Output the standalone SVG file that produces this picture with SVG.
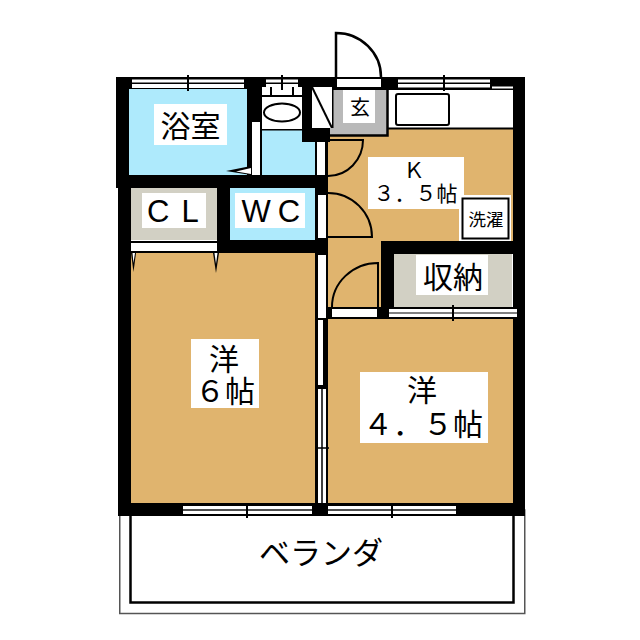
<svg xmlns="http://www.w3.org/2000/svg" width="640" height="640" viewBox="0 0 640 640">
<style>
.k{fill:#000}
.w{fill:#fff}
.wood{fill:#e0b46e}
.blue{fill:#aeeafc}
.store{fill:#d2d0c4}
.gray{fill:#b9b9b9}
.ln{fill:none;stroke:#000;stroke-width:2}
text{font-family:"Noto Sans CJK JP","Liberation Sans",sans-serif;fill:#000;text-anchor:middle}
text.lat{font-family:"Liberation Sans",sans-serif;text-anchor:start}
</style>
<rect width="640" height="640" fill="#fff"/>
<g id="balcony">
<rect x="119.750" y="510" width="405" height="103.500" fill="#fff" stroke="#555" stroke-width="1.500"/>
<rect x="130.500" y="510" width="383" height="92.500" fill="#fff" stroke="#000" stroke-width="2.500"/>
<text x="321" y="564" font-size="31">ベランダ</text>
</g>
<g id="walls">
<rect class="k" x="116" y="77" width="409" height="13"/>
<rect class="k" x="116" y="77" width="13" height="111"/>
<rect class="k" x="118" y="175" width="13" height="341"/>
<rect class="k" x="513" y="77" width="12" height="439"/>
<rect class="k" x="118" y="503" width="407" height="13"/>
<rect class="k" x="116" y="175" width="214" height="13"/>
<rect class="k" x="217" y="188" width="13" height="65"/>
<rect class="k" x="217" y="240" width="111" height="13"/>
<rect class="k" x="315" y="142" width="13" height="373"/>
<rect class="k" x="247" y="77" width="15" height="111"/>
<rect class="k" x="381" y="241" width="132" height="13"/>
<rect class="k" x="381" y="241" width="13" height="78"/>
<rect class="k" x="328" y="307" width="185" height="12"/>
</g>
<g id="bath">
<rect class="blue" x="129" y="89" width="118" height="86"/>
<path d="M251 166L226 171L251 175Z" fill="#000"/>
<path d="M251 168L236 171.500L251 174Z" fill="#fff"/>
<rect class="w" x="154" y="104" width="73" height="41"/>
<text x="190.500" y="137" font-size="30">浴室</text>
</g>
<g id="wash">
<rect class="w" x="252" y="122" width="8" height="53"/>
<rect class="w" x="262" y="86" width="40" height="43"/>
<rect class="blue" x="262" y="130" width="53" height="45"/>
<rect class="k" x="262" y="129" width="40" height="1.500"/>
<rect class="k" x="302" y="77" width="10" height="60"/>
<rect class="k" x="302" y="128" width="28" height="14"/>
<rect class="w" x="317" y="142" width="8" height="33"/>
<ellipse cx="282" cy="112.500" rx="18" ry="9" fill="#fff" stroke="#000" stroke-width="2"/>
<rect class="k" x="262" y="77" width="40" height="10"/>
<rect class="w" x="266" y="79.500" width="32" height="3"/>
<rect class="w" x="266" y="84" width="32" height="3.500"/>
<path class="ln" d="M282 75V90M271 87V96M293 87V96M262 96H302" stroke-width="1.500"/>
</g>
<g id="genkan">
<rect class="w" x="312" y="87" width="20" height="41"/>
<path class="ln" d="M312 87L332 128"/>
<rect class="gray" x="332" y="90" width="55" height="45"/>
<rect class="k" x="332" y="87" width="1.500" height="41"/>
<rect class="w" x="343" y="90" width="32" height="33"/>
<text x="360" y="115" font-size="20">玄</text>
<rect class="w" x="337" y="79" width="44" height="8"/>
<path d="M336 77V33A45 44 0 0 1 381 77" fill="none" stroke="#000" stroke-width="2.500"/>
</g>
<g id="kitchen">
<rect class="wood" x="328" y="142" width="185" height="99"/>
<rect class="wood" x="388" y="129" width="125" height="14"/>
<rect class="wood" x="330" y="136" width="58" height="7"/>
<rect class="wood" x="328" y="241" width="53" height="66"/>
<rect class="w" x="388" y="90" width="125" height="38"/>
<rect class="k" x="388" y="127.500" width="125" height="2"/>
<rect class="gray" x="330" y="128" width="57" height="7.500"/>
<path d="M330 135.500H387.500V90" fill="none" stroke="#000" stroke-width="2.500"/>
<rect x="396" y="94" width="53" height="31" rx="2" fill="#fff" stroke="#000" stroke-width="2"/>
<rect class="w" x="368" y="157" width="96" height="52"/>
<text font-size="21"><tspan x="414" y="178">Ｋ</tspan><tspan x="415.500" y="201">３．５帖</tspan></text>
<path class="ln" d="M328 140H363A35 36 0 0 1 328 176"/>
<path class="ln" d="M328 193A44 44 0 0 1 372 237H328"/>
<rect class="w" x="318" y="195" width="8" height="43"/>
<rect class="w" x="459" y="195" width="52" height="46"/>
<rect x="462.500" y="198.500" width="46" height="40" fill="#fff" stroke="#000" stroke-width="2"/>
<text x="486" y="226" font-size="17.500">洗濯</text>
</g>
<g id="closet-cl">
<rect class="store" x="131" y="188" width="86" height="52"/>
<rect class="w" x="142" y="193" width="64" height="35"/>
<text class="lat" x="147" y="222" font-size="31" letter-spacing="12">CL</text>
<rect class="k" x="131" y="241" width="86" height="2"/>
<rect class="w" x="131" y="243" width="86" height="8"/>
<rect class="k" x="131" y="251" width="86" height="2"/>
</g>
<g id="wc">
<rect class="blue" x="230" y="188" width="85" height="52"/>
<rect class="w" x="235" y="193" width="70" height="35"/>
<text class="lat" x="241.500" y="222" font-size="31" letter-spacing="7">WC</text>
</g>
<g id="closet">
<rect class="store" x="394" y="254" width="118" height="53"/>
<rect class="w" x="416" y="255" width="72" height="40"/>
<text x="453" y="288" font-size="30">収納</text>
<rect class="w" x="332" y="309" width="45" height="8"/>
<path class="ln" d="M378 307V263A46 44 0 0 0 332 307"/>
</g>
<g id="room6">
<rect class="wood" x="131" y="253" width="184" height="250"/>
<path d="M131 253H136L133.500 272Z" fill="#000"/>
<path d="M132.500 253H135L133.500 263Z" fill="#fff"/>
<path d="M213 253H219L216 273Z" fill="#000"/>
<path d="M214.500 253H217.500L216 264Z" fill="#fff"/>
<rect class="w" x="191" y="339" width="68" height="69"/>
<text font-size="30"><tspan x="224" y="370">洋</tspan><tspan x="225" y="402">６帖</tspan></text>
</g>
<g id="room45">
<rect class="wood" x="328" y="319" width="185" height="184"/>
<rect class="w" x="360" y="372" width="128" height="71"/>
<text font-size="30"><tspan x="422" y="401">洋</tspan><tspan x="423" y="435">４．５帖</tspan></text>
</g>
<g id="partition">
<rect class="w" x="318" y="255" width="8" height="63"/>
<rect class="w" x="318" y="320" width="5" height="65"/>
<rect class="w" x="318" y="389" width="8" height="114"/>
<path d="M322 389V505" stroke="#000" stroke-width="1.500"/>
<path d="M315 448H329" stroke="#000" stroke-width="1.500"/>
<rect class="k" x="312" y="503" width="16" height="13"/>
</g>
<g id="windows">
<rect class="w" x="132" y="79.500" width="112" height="3"/>
<rect class="w" x="132" y="84" width="112" height="4"/>
<path d="M188 75V91" stroke="#000" stroke-width="2"/>
<rect class="w" x="398" y="79.500" width="92" height="3"/>
<rect class="w" x="398" y="84" width="92" height="3.500"/>
<path d="M444 75V91" stroke="#000" stroke-width="2"/>
<rect class="w" x="492" y="86.500" width="21" height="2"/>
<rect class="w" x="389" y="309" width="128" height="3.500"/>
<rect class="w" x="389" y="313.500" width="128" height="3.500"/>
<path d="M453 305V321" stroke="#000" stroke-width="2"/>
<rect class="w" x="183" y="506" width="129" height="3.300"/>
<rect class="w" x="183" y="510.700" width="129" height="3.300"/>
<path d="M247 503V518" stroke="#000" stroke-width="2"/>
<rect class="w" x="328" y="506" width="128" height="3.300"/>
<rect class="w" x="328" y="510.700" width="128" height="3.300"/>
<path d="M392 503V518" stroke="#000" stroke-width="2"/>
</g>
</svg>
